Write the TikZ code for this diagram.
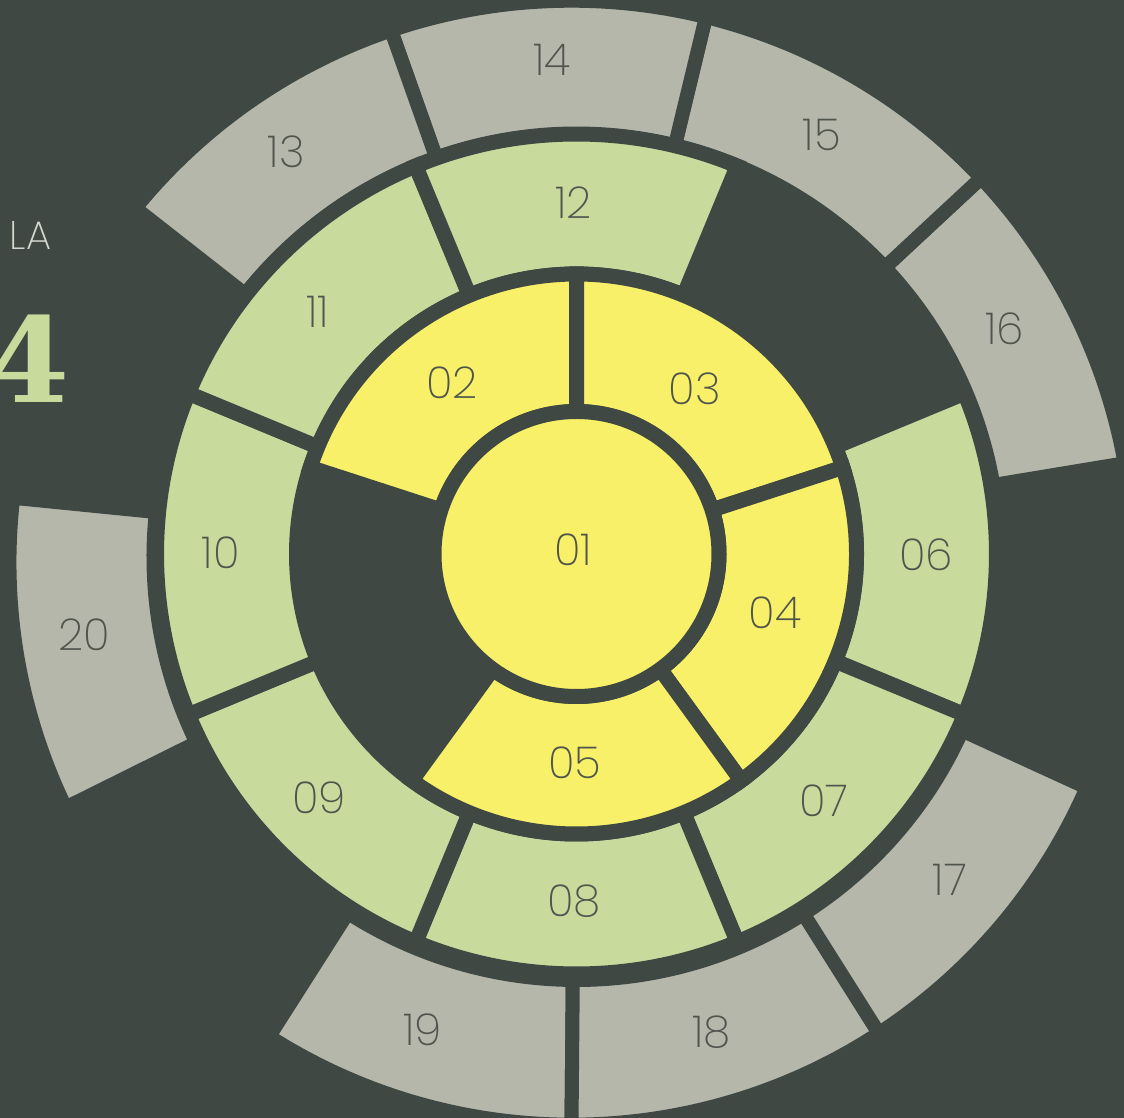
\documentclass[tikz,border=0pt]{standalone}
\usepackage{fontspec}
\IfFontExistsTF{Poppins ExtraLight}{\newfontfamily\lblfont{Poppins ExtraLight}}{%
  \IfFontExistsTF{Poppins Light}{\newfontfamily\lblfont{Poppins Light}}{\newfontfamily\lblfont{Poppins}}}
\newfontfamily\bigserif{DejaVu Serif}
\definecolor{bg}{HTML}{3F4843}
\definecolor{yel}{HTML}{F7F068}
\definecolor{greenseg}{HTML}{C8DB9D}
\definecolor{grayseg}{HTML}{B5B7AA}
\definecolor{lbltext}{HTML}{4F544D}
\definecolor{latext}{HTML}{D5D8CF}
% ring segment: start angle, end angle, inner r, outer r, colour
\newcommand\annseg[5]{\path[seg,fill=#5] (#1:#3) arc[start angle=#1,end angle=#2,radius=#3] -- (#2:#4) arc[start angle=#2,end angle=#1,radius=#4] -- cycle;}
% outer ring segment (slightly off-centre arcs)
\newcommand\outerseg[2]{\path[segthree] plot[domain=#1:#2,samples=40] (\x:{423-3*sin(\x)}) -- plot[domain=#2:#1,samples=40] (\x:{562-5*cos(\x)-8.7*sin(\x)}) -- cycle;}
\begin{document}
\begin{tikzpicture}[x=1pt,y=1pt,
  seg/.style={draw=bg, line width=15pt, line join=miter},
  segthree/.style={draw=bg, line width=14pt, line join=miter, fill=grayseg},
  lbl/.style={font=\lblfont\fontsize{44}{44}\selectfont, text=lbltext, inner sep=0pt}]
\useasboundingbox (-576.5,-564) rectangle (547.5,554);
\fill[bg] (-590,-580) rectangle (560,570);

% outer ring (grey)
\outerseg{9.4}{42.9}
\outerseg{42.9}{76.45}
\outerseg{76.45}{109.5}
\outerseg{109.5}{141.9}
\outerseg{174.3}{206.4}
\outerseg{237.5}{269.5}
\outerseg{269.5}{302.25}
\outerseg{302.25}{335.4}

% middle ring (green)
\annseg{-22.5}{22.5}{280}{420}{greenseg}
\annseg{-67.5}{-22.5}{280}{420}{greenseg}
\annseg{-112.5}{-67.5}{280}{420}{greenseg}
\annseg{-157.5}{-112.5}{280}{420}{greenseg}
\annseg{157.5}{202.5}{280}{420}{greenseg}
\annseg{112.5}{157.5}{280}{420}{greenseg}
\annseg{67.5}{112.5}{280}{420}{greenseg}

% inner ring (yellow)
\annseg{90}{162}{142.5}{280}{yel}
\annseg{18}{90}{142.5}{280}{yel}
\annseg{-54}{18}{142.5}{280}{yel}
\annseg{-126}{-54}{142.5}{280}{yel}

% centre disc
\path[seg,fill=yel] (0,0) circle[radius=142.5];

% labels
\node[lbl] (l01) at (-3.2,4.5) {01};
\node[lbl] (l02) at (-124.5,171) {02};
\node[lbl] (l03) at (118.5,165) {03};
\node[lbl] (l04) at (198.5,-59) {04};
\node[lbl] (l05) at (-1.5,-209) {05};
\node[lbl] (l06) at (349.5,-1) {06};
\node[lbl] (l07) at (247.5,-247) {07};
\node[lbl] (l08) at (-2.5,-347) {08};
\node[lbl] (l09) at (-257.5,-244) {09};
\node[lbl] (l10) at (-355.7,1) {10};
\node[lbl] (l11) at (-258.5,242) {11};
\node[lbl] (l12) at (-3.2,351.2) {12};
\node[lbl] (l13) at (-290.2,401.8) {13};
\node[lbl] (l14) at (-24.5,494) {14};
\node[lbl] (l15) at (245.5,419) {15};
\node[lbl] (l16) at (428.2,225.2) {16};
\node[lbl] (l17) at (373.5,-325.5) {17};
\node[lbl] (l18) at (135.1,-478.5) {18};
\node[lbl] (l19) at (-153.8,-475.8) {19};
\node[lbl] (l20) at (-492.5,-81) {20};

% partial title on the left
\node[anchor=base west, inner sep=0pt, text=latext, font=\lblfont\fontsize{40}{40}\selectfont] (la) at (-567,304) {LA};
\node[anchor=base east, inner sep=0pt, text=greenseg, font=\bigserif\bfseries\fontsize{118}{118}\selectfont] (four) at (-506.5,151) {4};
\end{tikzpicture}
\end{document}
